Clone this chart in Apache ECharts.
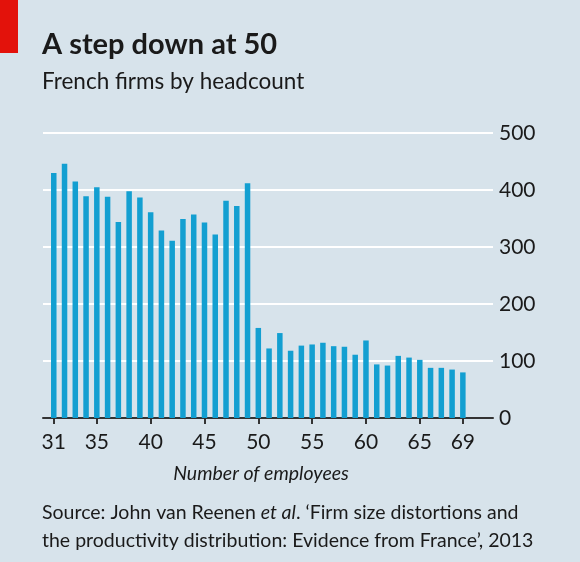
<!DOCTYPE html>
<html>
<head>
<meta charset="utf-8">
<script src="https://cdn.jsdelivr.net/npm/echarts@6/dist/echarts.min.js"></script>
<style>
  html, body { margin: 0; padding: 0; background: #d7e3eb; }
  #chart { width: 580px; height: 562px; }
</style>
</head>
<body>
<div id="chart"></div>
<script>
// firm headcount 31..69 and number of firms
var employees = [31, 32, 33, 34, 35, 36, 37, 38, 39, 40, 41, 42, 43, 44, 45, 46, 47, 48, 49, 50,
                 51, 52, 53, 54, 55, 56, 57, 58, 59, 60, 61, 62, 63, 64, 65, 66, 67, 68, 69];
var firms = [430, 446, 415, 389, 405, 388, 344, 398, 387, 361, 329, 311, 349, 357, 343, 322, 381, 372, 412, 158,
             122, 149, 118, 127, 129, 132, 126, 125, 111, 136, 94, 92, 109, 106, 102, 88, 88, 85, 80];
var xTicks = [31, 35, 40, 45, 50, 55, 60, 65, 69];

var FONT = 'Lato';
var chart = echarts.init(document.getElementById('chart'));

var points = [];
for (var i = 0; i < employees.length; i++) points.push([employees[i], firms[i]]);

var option = {
    backgroundColor: '#d7e3eb',
    animation: false,
    textStyle: { fontFamily: FONT },
    graphic: [
        { type: 'rect', left: 0, top: 0, shape: { width: 18, height: 53 }, style: { fill: '#e3120b' } }
    ],
    title: [
        {
            text: 'A step down at 50',
            left: 42, top: 30, padding: 0,
            textStyle: { fontFamily: FONT, fontWeight: 'bold', fontSize: 29, color: '#1a1a1a' }
        },
        {
            text: 'French firms by headcount',
            left: 42, top: 70, padding: 0,
            textStyle: { fontFamily: FONT, fontWeight: 'normal', fontSize: 22.5, color: '#1a1a1a' }
        },
        {
            text: 'Number of employees',
            left: 261, top: 464, textAlign: 'center', padding: 0,
            textStyle: { fontFamily: FONT, fontStyle: 'italic', fontWeight: 'normal', fontSize: 19.5, color: '#1a1a1a' }
        },
        {
            text: 'Source: John van Reenen {i|et al}. \u2018Firm size distortions and\nthe productivity distribution: Evidence from France\u2019, 2013',
            left: 42, top: 499, padding: 0,
            textStyle: {
                fontFamily: FONT, fontWeight: 'normal', fontSize: 19.5, lineHeight: 28, color: '#1a1a1a',
                rich: { i: { fontFamily: FONT, fontStyle: 'italic', fontSize: 19.5, color: '#1a1a1a' } }
            }
        }
    ],
    grid: { left: 43, right: 87, top: 133, bottom: 144 },
    xAxis: {
        type: 'value',
        min: 30, max: 71.8,
        splitLine: { show: false },
        axisLine: { show: true, onZero: false, lineStyle: { color: '#333', width: 2 } },
        axisTick: { show: true, customValues: xTicks, length: 6, lineStyle: { color: '#333', width: 2 } },
        axisLabel: {
            customValues: xTicks, margin: 14,
            fontFamily: FONT, fontSize: 21, color: '#1a1a1a'
        }
    },
    yAxis: {
        type: 'value',
        position: 'right',
        min: 0, max: 500, interval: 100,
        axisLine: { show: false },
        axisTick: { show: false },
        axisLabel: { margin: 6, fontFamily: FONT, fontSize: 21, color: '#1a1a1a', align: 'left' },
        splitLine: { lineStyle: { color: '#ffffff', width: 2 } }
    },
    series: [{
        type: 'bar',
        data: points,
        barWidth: 5.5,
        itemStyle: { color: '#139fd1' }
    }]
};
chart.setOption(option);
</script>
</body>
</html>
